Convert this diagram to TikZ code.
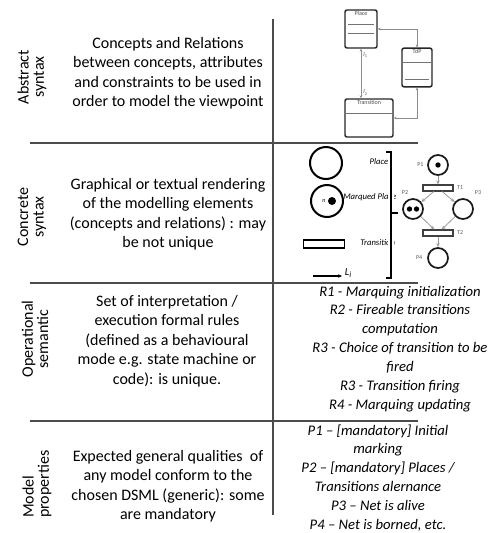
\documentclass[tikz,border=0pt]{standalone}
\usepackage{fontspec}
\setmainfont{Carlito}
\usetikzlibrary{arrows.meta,positioning,calc}

\begin{document}
\begin{tikzpicture}[
  x=0.75pt, y=-0.75pt,
  >={Stealth[length=3pt,width=2.6pt]},
  grid/.style={draw=black!70, line width=0.8pt},
  rowlab/.style={rotate=90, align=center, inner sep=0pt,
                 font=\fontsize{12}{11.5}\selectfont},
  desc/.style={align=center, inner sep=0pt,
               font=\fontsize{12}{14.6}\selectfont},
  rules/.style={align=center, inner sep=0pt,
                font=\fontsize{11}{14.2}\selectfont\itshape},
  cls/.style={draw=black!85, line width=1.1pt, rounded corners=1.5pt,
              fill=white, inner sep=0pt},
  clstitle/.style={font=\fontsize{4.5}{4.5}\selectfont, text=black!70, inner sep=0.5pt},
  clssep/.style={draw=black!55, line width=0.5pt},
  assoc/.style={<->, draw=black!45, line width=0.6pt,
                >={Stealth[length=2.2pt,width=2pt]}},
  leg/.style={font=\fontsize{6.5}{7}\selectfont\itshape, inner sep=0pt},
  bigpl/.style={circle, draw, line width=1.5pt, minimum size=24pt, inner sep=0pt},
  bigtr/.style={draw, line width=1.1pt, minimum width=31pt, minimum height=6pt,
                inner sep=0pt},
  pl/.style={circle, draw=black!90, line width=1.3pt, minimum size=15pt, inner sep=0pt},
  tr/.style={draw=black!75, line width=0.8pt, minimum width=22.5pt,
             minimum height=4.5pt, inner sep=0pt},
  tok/.style={circle, fill=black, minimum size=4pt, inner sep=0pt},
  pnlab/.style={font=\fontsize{4.5}{5}\selectfont, text=black!65, inner sep=0.5pt},
  arc/.style={->, draw=black!40, line width=0.6pt}]

\useasboundingbox (0,0) rectangle (500,533);

% Table rules
\coordinate (coltop) at (273,19);
\coordinate (colbot) at (273,515);
\draw[grid] (coltop) -- (colbot);
\foreach \y in {143,283,421}
  \draw[grid] (30,\y) -- (418,\y);

% Row headings
\node[rowlab] (absh) at (32,77)  {Abstract\\syntax};
\node[rowlab] (conh) at (32,217) {Concrete\\syntax};
\node[rowlab] (oph)  at (35,339) {Operational\\semantic};
\node[rowlab, align=left, anchor=west] (modh) at (37,518) {Model\\properties};

% Descriptions
\node[desc] (absd) at (168,73)
  {Concepts and Relations\\between concepts, attributes\\and constraints to be used in\\order to model the viewpoint};
\node[desc] (cond) at (168,214)
  {Graphical or textual rendering\\of the modelling elements\\(concepts and relations) : may\\be not unique};
\node[desc] (opd) at (167,341)
  {Set of interpretation /\\execution formal rules\\(defined as a behavioural\\mode e.g. state machine or\\code): is unique.};
\node[desc] (modd) at (168,486)
  {Expected general qualities\ \ of\\any model conform to the\\chosen DSML (generic): some\\are mandatory};

% Rules and properties
\node[rules] (opr) at (400,349)
  {R1 - Marquing initialization\\R2 - Fireable transitions\\computation\\R3 - Choice of transition to be\\fired\\R3 - Transition firing\\R4 - Marquing updating};
\node[rules] (modr) at (378,478)
  {P1 – [mandatory] Initial\\marking\\P2 – [mandatory] Places /\\Transitions alernance\\P3 – Net is alive\\P4 – Net is borned, etc.};

% Metamodel: classes
\node[cls, minimum width=24pt, minimum height=28.5pt] (plcls) at (361,29) {};
\node[clstitle, below=1pt of plcls.north] (pltit) {Place};
\draw[clssep, shorten <=3pt, shorten >=3pt]
  ($(plcls.north west)!0.37!(plcls.south west)$) -- ($(plcls.north east)!0.37!(plcls.south east)$);
\draw[clssep, shorten <=3pt, shorten >=3pt]
  ($(plcls.north west)!0.6!(plcls.south west)$) -- ($(plcls.north east)!0.6!(plcls.south east)$);

\node[cls, minimum width=22.5pt, minimum height=29pt] (tdpcls) at (417,67.5) {};
\node[clstitle, below=1pt of tdpcls.north] (tdptit) {TdP};
\draw[clssep]
  ($(tdpcls.north west)!0.36!(tdpcls.south west)$) -- ($(tdpcls.north east)!0.36!(tdpcls.south east)$);
\draw[clssep, shorten <=3pt, shorten >=3pt]
  ($(tdpcls.north west)!0.8!(tdpcls.south west)$) -- ($(tdpcls.north east)!0.8!(tdpcls.south east)$);

\node[cls, minimum width=36pt, minimum height=28.5pt] (trcls) at (369,118) {};
\node[clstitle, below=1pt of trcls.north] (trtit) {Transition};
\draw[clssep]
  ($(trcls.north west)!0.37!(trcls.south west)$) -- ($(trcls.north east)!0.37!(trcls.south east)$);

% Metamodel: associations
\draw[assoc] (plcls.east) -| (tdpcls.north);
\draw[assoc] (plcls.south) --
  node[pos=0.12, right=1pt, clstitle] {\textit{l}\textsubscript{1}}
  node[pos=0.88, right=1pt, clstitle] {\textit{l}\textsubscript{2}}
  (plcls.south |- trcls.north);
\draw[assoc] (tdpcls.south) |- (trcls.east);

% Notation legend
\node[bigpl] (lgpl) at (326,163) {};
\node[leg] (lgpltxt) at (379,162) {Place};
\node[bigpl] (lgmp) at (327,201) {};
\node[tok, minimum size=6pt] (lgtok) at (332,201) {};
\node[font=\fontsize{4.5}{5}\selectfont\itshape, inner sep=0pt, left=1.5pt of lgtok] (lgn) {n};
\node[leg, anchor=west] (lgmptxt) at (343,197) {Marqued Place};
\node[bigtr] (lgtr) at (324,244) {};
\node[leg, anchor=west] (lgtrtxt) at (360,243) {Transition};
\coordinate (lgarr) at (313,276);
\node[font=\fontsize{8}{8}\selectfont\itshape, inner sep=2pt, anchor=west] (lgL) at (342,273) {L\textsubscript{i}};
\draw[->, line width=0.8pt] (lgarr) -- (lgarr -| lgL.west);

% Bracket over the legend
\draw[white, line width=4pt] (391,158) -- (391,272);
\draw[line width=0.8pt] (386,152) -- (391,152) -- (391,278) -- (386,278);
\draw[line width=0.8pt] (391,213) -- (398,213);

% Sample net
\node[pl] (p1) at (438,165) {};
\node[tok] (p1tok) at (p1) {};
\node[tr] (t1) at (438,188) {};
\node[pl] (p2) at (413,209) {};
\node[tok] (p2a) at (409.5,209) {};
\node[tok] (p2b) at (416.5,209) {};
\node[pl] (p3) at (463,209) {};
\node[tr] (t2) at (438,233) {};
\node[pl] (p4) at (438,258) {};

\node[pnlab, left=2pt of p1] (p1l) {P1};
\node[pnlab, right=2pt of t1] (t1l) {T1};
\node[pnlab] (p2l) at (405,193) {P2};
\node[pnlab] (p3l) at (478,193) {P3};
\node[pnlab, right=2pt of t2] (t2l) {T2};
\node[pnlab, left=3pt of p4] (p4l) {P4};

\draw[arc] (p1) -- (t1);
\draw[arc] (t1) -- (p2);
\draw[arc] (t1) -- (p3);
\draw[arc] (p2) -- (t2);
\draw[arc] (p3) -- (t2);
\draw[arc] (t2) -- (p4);
\end{tikzpicture}
\end{document}
